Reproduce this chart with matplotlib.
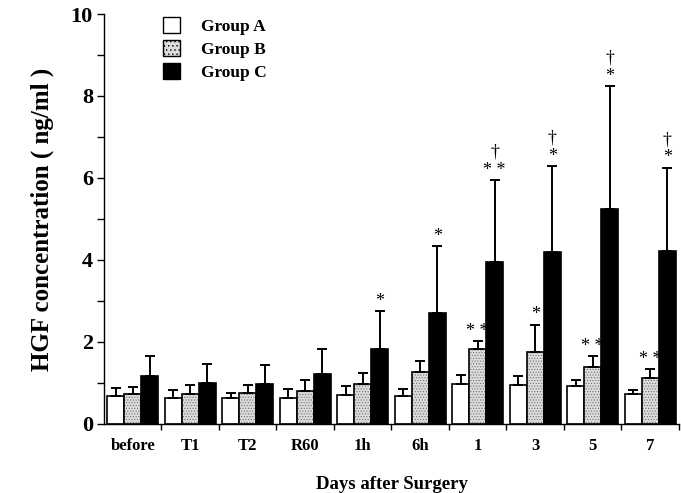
import matplotlib
matplotlib.use('Agg')
import matplotlib.pyplot as plt
import numpy as np
from matplotlib.patches import Patch

# 数据
labels = ['before', 'T1', 'T2', 'R60', '1h', '6h', '1', '3', '5', '7']
a_mean = [0.68, 0.64, 0.64, 0.64, 0.70, 0.69, 0.98, 0.95, 0.92, 0.74]
a_sd = [0.20, 0.19, 0.11, 0.21, 0.23, 0.16, 0.22, 0.21, 0.16, 0.10]
b_mean = [0.72, 0.72, 0.76, 0.81, 0.97, 1.27, 1.83, 1.75, 1.39, 1.11]
b_sd = [0.19, 0.23, 0.19, 0.27, 0.28, 0.27, 0.19, 0.67, 0.26, 0.22]
c_mean = [1.18, 1.01, 0.98, 1.23, 1.84, 2.70, 3.96, 4.20, 5.25, 4.22]
c_sd = [0.49, 0.46, 0.45, 0.59, 0.91, 1.64, 1.99, 2.09, 2.99, 2.03]
b_marks = ['', '', '', '', '', '', '* *', '*', '* *', '* *']
c_marks = ['', '', '', '', '*', '*', '\u2020\n* *', '\u2020\n*', '\u2020\n*', '\u2020\n*']

plt.rcParams['font.family'] = ['Liberation Serif', 'DejaVu Serif']
plt.rcParams['hatch.linewidth'] = 0.5

fig = plt.figure(figsize=(6.81, 4.93), dpi=100)
ax = fig.add_axes([0.1527, 0.14, 0.8443, 0.8316])

x = np.arange(len(labels))
w = 0.295
err_kw = dict(ecolor='black', elinewidth=1.4, capsize=3.6, capthick=1.4)

# Group A
ax.bar(x - w, a_mean, w, color='white', edgecolor='black', linewidth=1.2,
       yerr=[np.zeros(len(a_sd)), a_sd], error_kw=err_kw, zorder=2)
# Group B 点状填充
ax.bar(x, b_mean, w, color='#dcdcdc', edgecolor='#707070', linewidth=0,
       hatch='......', zorder=2)
ax.bar(x, b_mean, w, fill=False, edgecolor='black', linewidth=1.2,
       yerr=[np.zeros(len(b_sd)), b_sd], error_kw=err_kw, zorder=3)
# Group C
ax.bar(x + w, c_mean, w, color='black', edgecolor='black', linewidth=1.2,
       yerr=[np.zeros(len(c_sd)), c_sd], error_kw=err_kw, zorder=2)

# 显著性标记
for xi, m, s, t in zip(x, b_mean, b_sd, b_marks):
    if t:
        ax.annotate(t, (xi, m + s), xytext=(0, 1), textcoords='offset points',
                    ha='center', va='bottom', fontsize=13, linespacing=1.1)
for xi, m, s, t in zip(x, c_mean, c_sd, c_marks):
    if t:
        ax.annotate(t, (xi + w, m + s), xytext=(0, 1), textcoords='offset points',
                    ha='center', va='bottom', fontsize=13, linespacing=1.1)

ax.set_xlim(-0.5, len(labels) - 0.5)
ax.set_ylim(0, 10)
ax.set_xticks(np.append(x[:-1] + 0.5, len(labels) - 0.5))
ax.set_xticklabels([])
ax.set_xticks(x, minor=True)
ax.set_xticklabels(labels, minor=True, fontsize=12, fontweight='bold')
ax.tick_params(axis='x', which='minor', length=0, pad=10)
ax.tick_params(axis='x', which='major', length=4, width=1, direction='out')
ax.set_yticks(np.arange(0, 11, 2))
ax.set_yticks(np.arange(1, 10, 2), minor=True)
ax.set_yticklabels([str(v) for v in range(0, 11, 2)], fontsize=16, fontweight='bold')
ax.tick_params(axis='y', which='both', length=5, width=1, direction='out', pad=3)

for s in ['top', 'right']:
    ax.spines[s].set_visible(False)
ax.spines['left'].set_linewidth(1)
ax.spines['bottom'].set_linewidth(1)

ax.set_ylabel('HGF concentration ( ng/ml )', fontsize=18, fontweight='bold', labelpad=12)
ax.set_xlabel('Days after Surgery', fontsize=13.5, fontweight='bold', labelpad=16)

handles = [Patch(facecolor='white', edgecolor='black', linewidth=1),
           Patch(facecolor='#dcdcdc', edgecolor='black', linewidth=1, hatch='....'),
           Patch(facecolor='black', edgecolor='black', linewidth=1)]
ax.legend(handles, ['Group A', 'Group B', 'Group C'], loc='upper left',
          bbox_to_anchor=(0.075, 1.03), frameon=False,
          prop={'size': 12.5, 'weight': 'bold'}, handlelength=1.0, handleheight=1.0,
          handletextpad=1.2, labelspacing=0.3)

plt.savefig('out.png', dpi=100)
